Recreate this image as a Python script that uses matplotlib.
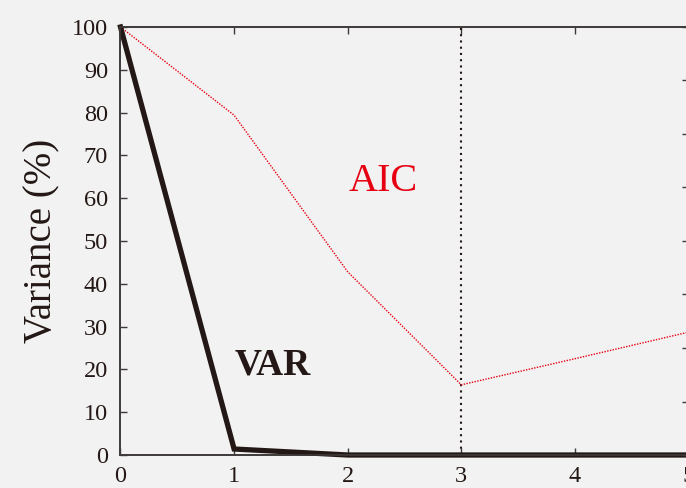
import matplotlib
matplotlib.use("Agg")
import matplotlib.pyplot as plt

# Data
steps = [0, 1, 2, 3, 4, 5]
var_pct = [100, 1.4, 0, 0, 0, 0]
aic_pct = [100, 79.4, 42.8, 16.4, 22.5, 28.7]
selected_step = 3
yticks = [0, 10, 20, 30, 40, 50, 60, 70, 80, 90, 100]
xticks = [0, 1, 2, 3, 4, 5]

bg = "#f2f2f2"
ink = "#231815"
red = "#e60012"
spine_c = "#3e3a39"

plt.rcParams['font.family'] = ['Liberation Serif', 'DejaVu Serif']

fig = plt.figure(figsize=(6.86, 4.88), dpi=100, facecolor=bg)
ax = fig.add_axes([120.5 / 686, 33 / 488, 568 / 686, 428 / 488])
ax.set_facecolor(bg)

ax.plot(steps, aic_pct, color=red, lw=1.0, ls=(0, (1, 1)), zorder=3)
ax.axvline(selected_step, color=ink, lw=1.5, ls=(0, (1, 2)), zorder=2)
ax.plot(steps, var_pct, color=ink, lw=3.8, solid_joinstyle='miter', zorder=4, clip_on=False)

ax.set_xlim(0, 5)
ax.set_ylim(0, 100)
ax.set_xticks(xticks)
ax.set_yticks(yticks)
ax.tick_params(direction='in', length=5, width=1, colors=spine_c, labelcolor=ink,
               labelsize=17.5, top=True, pad=9)
ax.tick_params(axis='x', pad=8)
for s in ax.spines.values():
    s.set_color(spine_c)
    s.set_linewidth(1.2)

ax.set_ylabel("Variance (%)", fontsize=28, color=ink, labelpad=8)

ax.text(2.31, 64, "AIC", color=red, fontsize=29, ha='center', va='center')
ax.text(1.34, 21, "VAR", color=ink, fontsize=27, fontweight='bold', ha='center', va='center')

ax2 = ax.twinx()
ax2.set_ylim(0, 8)
ax2.set_yticks(range(9))
ax2.tick_params(direction='in', length=4, width=1, colors=spine_c, labelright=False)
for s in ax2.spines.values():
    s.set_color(spine_c)
    s.set_linewidth(1.2)

fig.savefig("out.png", dpi=100, facecolor=bg)
